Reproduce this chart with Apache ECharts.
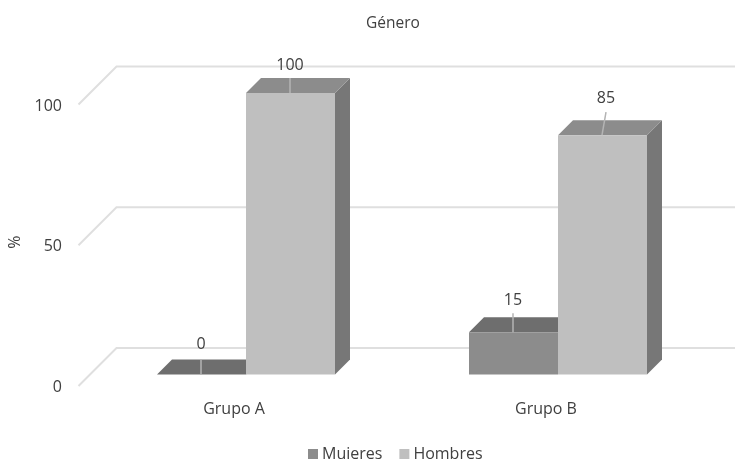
<!DOCTYPE html>
<html>
<head>
<meta charset="utf-8">
<style>html,body{margin:0;padding:0;background:#fff}#c{width:735px;height:459px}</style>
<script src="https://cdn.jsdelivr.net/npm/echarts@6/dist/echarts.min.js"></script>
</head>
<body>
<div id="c"></div>
<script>
const categories = ['Grupo A', 'Grupo B'];
const mujeres = [0, 15];
const hombres = [100, 85];
const valueTicks = [0, 50, 100];

const INK = '#404040';
const FONT = '"Open Sans", sans-serif';
const BAR_DEPTH = 15;      // receding offset of each box
const FLOOR_FRONT = 11.5;  // floor margin in front of the boxes
const FLOOR_BACK = 26.5;   // wall distance behind the front plane
const BAR_SHARE = 89 / 312;

const faces = {
  Mujeres: { front: '#8c8c8c', top: '#6e6e6e', side: '#6e6e6e' },
  Hombres: { front: '#bfbfbf', top: '#8c8c8c', side: '#777777' }
};

// Hand-placed value labels: leader length, label height above the box, sideways lean.
const labelPlacement = {
  Mujeres: [{ leader: 15, rise: 30, lean: 0 }, { leader: 19, rise: 32, lean: 0 }],
  Hombres: [{ leader: 15, rise: 28, lean: 0 }, { leader: 23, rise: 37, lean: 4 }]
};

function poly(points, fill, z2) {
  return { type: 'polygon', z2: z2, shape: { points: points }, style: { fill: fill } };
}

function valueLabel(x, yTop, value, place) {
  return [
    { type: 'line', z2: 5,
      shape: { x1: x, y1: yTop, x2: x + place.lean, y2: yTop - place.leader },
      style: { stroke: '#b4b4b4', lineWidth: 1.5 } },
    { type: 'text', z2: 6,
      style: { x: x + place.lean, y: yTop - place.rise, text: String(value), fill: INK,
               font: '16px ' + FONT, textAlign: 'center', textVerticalAlign: 'middle' } }
  ];
}

function boxRenderer(name, side) {
  const c = faces[name];
  return function (params, api) {
    const centre = api.coord([api.value(0), 0]);
    const top = api.coord([api.value(0), api.value(1)]);
    const w = api.size([1, 0])[0] * BAR_SHARE;
    const x0 = side < 0 ? centre[0] - w : centre[0];
    const x1 = x0 + w;
    const yb = centre[1], yt = top[1], d = BAR_DEPTH;
    const kids = [];
    if (side > 0) {
      kids.push(poly([[x1, yt], [x1 + d, yt - d], [x1 + d, yb - d], [x1, yb]], c.side, 1));
    }
    kids.push(poly([[x0, yt], [x0 + d, yt - d], [x1 + d, yt - d], [x1, yt]], c.top, 2));
    if (yb - yt > 0) {
      kids.push(poly([[x0, yt], [x1, yt], [x1, yb], [x0, yb]], c.front, 3));
    }
    const place = labelPlacement[name][params.dataIndex];
    const labelX = x0 + w / 2 - 0.5;
    return { type: 'group', children: kids.concat(valueLabel(labelX, yt, api.value(1), place)) };
  };
}

// Back wall line plus the diagonal running down the side wall.
function wallRenderer(params, api) {
  const p = api.coord([0, api.value(0)]);
  const left = params.coordSys.x;
  const right = params.coordSys.x + params.coordSys.width;
  return {
    type: 'polyline',
    shape: { points: [
      [left - FLOOR_FRONT, p[1] + FLOOR_FRONT],
      [left + FLOOR_BACK, p[1] - FLOOR_BACK],
      [right + FLOOR_BACK, p[1] - FLOOR_BACK]
    ] },
    style: { stroke: '#dfdfdf', lineWidth: 2, fill: 'none' }
  };
}

const chart = echarts.init(document.getElementById('c'), null, { renderer: 'canvas' });
chart.setOption({
  animation: false,
  backgroundColor: '#ffffff',
  title: {
    text: 'Género', left: 388, top: 11, textAlign: 'center',
    textStyle: { fontFamily: FONT, fontSize: 15.5, fontWeight: 'normal', color: INK }
  },
  legend: {
    data: ['Mujeres', 'Hombres'], left: 303, top: 441, icon: 'rect',
    itemWidth: 10, itemHeight: 10, itemGap: 17,
    textStyle: { fontFamily: FONT, fontSize: 16, color: INK, padding: [0, 0, 0, -1] }
  },
  grid: { left: 90, right: 21, top: 93, bottom: 84.5, outerBoundsMode: 'none' },
  xAxis: {
    type: 'category', data: categories,
    axisLine: { show: false }, axisTick: { show: false }, splitLine: { show: false },
    axisLabel: { fontFamily: FONT, fontSize: 16, color: INK, margin: 27, padding: [0, 24, 0, 0] }
  },
  yAxis: {
    type: 'value', min: 0, max: 100, interval: 50,
    name: '%', nameLocation: 'middle', nameGap: 61, nameRotate: 90,
    nameTextStyle: { fontFamily: FONT, fontSize: 16, color: INK, padding: [0, 17, 0, 0] },
    axisLine: { show: false }, axisTick: { show: false }, splitLine: { show: false },
    axisLabel: { fontFamily: FONT, fontSize: 16, color: INK, margin: 28, verticalAlign: 'top', padding: [5, 0, 0, 0] }
  },
  series: [
    { type: 'custom', name: 'Pared', silent: true, clip: false, z: 1,
      data: valueTicks.map(v => [v]), encode: { y: 0 }, renderItem: wallRenderer },
    { type: 'custom', name: 'Mujeres', clip: false, z: 2,
      itemStyle: { color: faces.Mujeres.front },
      data: mujeres.map((v, i) => [i, v]), encode: { x: 0, y: 1 },
      renderItem: boxRenderer('Mujeres', -1) },
    { type: 'custom', name: 'Hombres', clip: false, z: 3,
      itemStyle: { color: faces.Hombres.front },
      data: hombres.map((v, i) => [i, v]), encode: { x: 0, y: 1 },
      renderItem: boxRenderer('Hombres', 1) }
  ]
});
</script>
</body>
</html>
